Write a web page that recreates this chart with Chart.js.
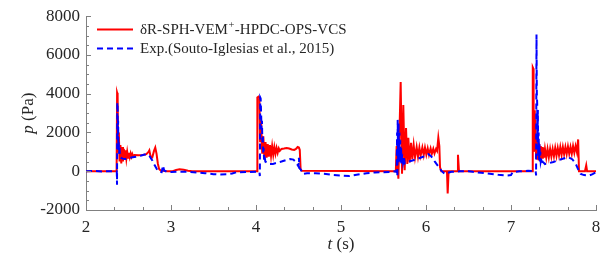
<!DOCTYPE html>
<html><head><meta charset="utf-8">
<script src="https://cdn.jsdelivr.net/npm/chart.js@4/dist/chart.umd.min.js"></script>
<style>html,body{margin:0;padding:0;background:#fff;}canvas{display:block;}</style>
</head><body>
<canvas id="c" width="611" height="262"></canvas>
<script>
// ---- data ----
const seriesNames = ['δR-SPH-VEM+-HPDC-OPS-VCS', 'Exp.(Souto-Iglesias et al., 2015)'];
const xTicks = [2, 3, 4, 5, 6, 7, 8];
const yTicks = [-2000, 0, 2000, 4000, 6000, 8000];
const xLabel = ['t', ' (s)'];
const yLabel = ['p', ' (Pa)'];

const simT = [
2.00, 2.36, 2.362,
2.366, 2.372, 2.378, 2.386, 2.395, 2.405, 2.415, 2.425, 2.435, 2.445,
2.455, 2.465, 2.475, 2.485, 2.495, 2.505, 2.515, 2.525, 2.535, 2.545,
2.555, 2.57, 2.62, 2.67, 2.71, 2.735, 2.745, 2.76, 2.78, 2.80,
2.815, 2.83, 2.845, 2.86, 2.88, 2.95, 3.02, 3.06, 3.10, 3.15,
3.20, 3.25, 4.012,
4.016, 4.03, 4.04, 4.048, 4.06, 4.073, 4.086, 4.099, 4.112, 4.125,
4.138, 4.151, 4.164, 4.177, 4.19, 4.203, 4.216, 4.229, 4.242, 4.255,
4.268, 4.28, 4.30, 4.33, 4.36, 4.39, 4.42, 4.45, 4.47, 4.49,
4.505, 4.515, 4.525, 4.54, 5.645,
5.647, 5.655, 5.675, 5.702, 5.718, 5.733, 5.749, 5.765, 5.780, 5.792,
5.808, 5.824, 5.839, 5.855, 5.871, 5.890, 5.906, 5.922, 5.937, 5.957,
5.973, 5.988, 6.004, 6.020, 6.035, 6.054, 6.069, 6.086, 6.10, 6.118,
6.13, 6.145, 6.157, 6.165, 6.18, 6.247, 6.255, 6.266, 6.365, 6.376,
6.388, 7.25,
7.255, 7.257, 7.262, 7.266, 7.272, 7.28, 7.287, 7.295, 7.303, 7.31,
7.318, 7.326, 7.334, 7.342, 7.35, 7.358, 7.366, 7.374, 7.382, 7.39,
7.40, 7.415, 7.43, 7.445, 7.46, 7.475, 7.49, 7.505, 7.52, 7.535,
7.55, 7.565, 7.58, 7.595, 7.61, 7.625, 7.64, 7.655, 7.67, 7.685,
7.70, 7.715, 7.73, 7.745, 7.76, 7.775, 7.79, 7.80, 7.87, 7.885,
7.895, 8.00
];
const simP = [
0, 0, 0,
4050, 3950, 1000, 2000, 500, 1350, 400, 1250, 500, 1150,
600, 1080, 650, 1000, 700, 960, 730, 920, 750, 890,
770, 840, 820, 840, 880, 1000, 1080, 760, 720, 1050,
1220, 900, 400, 120, 30, 0, 0, 60, 100, 80,
30, 0, 0,
3800, 3850, 3800, 1500, 2600, 900, 1800, 700, 1500, 700,
1400, 750, 1350, 800, 1300, 850, 1250, 900, 1200, 950,
1180, 1050, 1150, 1170, 1200, 1170, 1120, 1100, 1150, 1250,
1220, 1100, 100, 20, 0,
0, 1300, -390, 4600, -130, 3420, 50, 2230, 370, 1730,
460, 1470, 620, 1350, 710, 1250, 750, 1220, 800, 1220,
830, 1220, 850, 1180, 850, 1180, 900, 1160, 920, 1150,
1050, 1730, 1300, 200, 0, 0, -1150, 0, 0, 850,
0, 0,
0, 5360, 5300, 1500, 3150, 1000, 2650, 700, 1800, 600,
1470, 560, 1400, 600, 1300, 650, 1250, 650, 1200, 700,
1150, 700, 1150, 720, 1150, 750, 1150, 770, 1200, 800,
1200, 820, 1250, 850, 1250, 870, 1250, 880, 1280, 900,
1250, 900, 1300, 950, 1300, 1000, 1640, 0, 0, 300,
0, 0
];

const expT = [
2.00, 2.10, 2.20, 2.30, 2.362, 2.365, 2.368, 2.372, 2.375, 2.378,
2.381, 2.385, 2.39, 2.395, 2.40, 2.41, 2.43, 2.46, 2.50, 2.55,
2.60, 2.65, 2.69, 2.72, 2.75, 2.78, 2.81, 2.84, 2.87, 2.89,
2.905, 2.92, 2.95, 3.00, 3.10, 3.20, 3.30, 3.40, 3.50, 3.58,
3.66, 3.72, 3.77, 3.90, 4.00, 4.04,
4.045, 4.05, 4.055, 4.06, 4.065, 4.07, 4.075, 4.08, 4.085, 4.09,
4.095, 4.10, 4.11, 4.125, 4.15, 4.20, 4.25, 4.30, 4.35, 4.40,
4.44, 4.47, 4.50, 4.505, 4.51, 4.525, 4.55, 4.60, 4.70, 4.80,
4.90, 5.00, 5.10, 5.20, 5.30, 5.40, 5.50, 5.60, 5.64,
5.655, 5.66, 5.663, 5.667, 5.672, 5.677, 5.682, 5.687, 5.692, 5.697,
5.702, 5.707, 5.712, 5.72, 5.73, 5.74, 5.75, 5.77, 5.80, 5.85,
5.90, 5.95, 6.00, 6.03, 6.06, 6.10, 6.15, 6.18, 6.22, 6.26,
6.30, 6.40, 6.50, 6.55, 6.65, 6.75, 6.85, 6.95, 7.00, 7.02,
7.10, 7.20, 7.29,
7.295, 7.30, 7.304, 7.308, 7.312, 7.316, 7.32, 7.325, 7.33, 7.335,
7.34, 7.345, 7.35, 7.36, 7.37, 7.38, 7.40, 7.45, 7.50, 7.55,
7.60, 7.65, 7.68, 7.72, 7.76, 7.79, 7.82, 7.86, 7.92, 7.96,
8.00
];
const expP = [
0, 10, -10, 0, 0, -700, 3550, 3400, 1600, 2600,
1100, 1500, 900, 1250, 750, 700, 650, 630, 680, 720,
760, 810, 860, 880, 760, 560, 290, 60, -40, -50,
300, 40, -30, -40, -20, -30, -60, -100, -150, -170,
-160, -120, -50, -40, -30, -40,
-250, 3800, 3750, 3000, 2150, 2600, 1500, 1800, 900, 1200,
600, 800, 500, 460, 380, 380, 440, 500, 570, 630,
600, 470, 250, 700, 150, 100, -140, -100, -100, -130,
-190, -220, -250, -170, -100, -60, -50, -30, 0,
-50, 2000, -300, 2650, 400, 2500, 600, 2000, 500, 1600,
450, 1200, 400, 900, 450, 700, 400, 450, 500, 570,
640, 720, 800, 880, 780, 520, 220, 30, -130, -80,
-30, 0, 0, -30, -80, -130, -180, -220, -200, -50,
0, 20, 0,
-220, 7050, 4000, 3500, 1500, 3160, 800, 2000, 600, 1400,
500, 1000, 500, 700, 480, 460, 370, 420, 480, 560,
630, 700, 710, 620, 400, 100, -140, -200, -220, -150,
-50
];

// ---- styling ----
const FONT = '"Liberation Serif", "Times New Roman", serif';
const AXIS_COLOR = '#808080';
const TEXT_COLOR = '#262626';
const RED = '#ff0000';
const BLUE = '#0000ff';
const BLUE_DASH = [6, 4];

const toXY = (ts, ps) => ts.map((t, i) => ({ x: t, y: ps[i] }));

const inwardTicks = {
  id: 'inwardTicks',
  afterDraw(chart) {
    const { ctx, chartArea: a, scales: { x, y } } = chart;
    ctx.save();
    ctx.strokeStyle = AXIS_COLOR;
    ctx.lineWidth = 1;
    ctx.beginPath();
    const xs = x.min, xe = x.max;
    for (let k = 0; k <= (xe - xs) * 3 + 1e-6; k++) {
      const v = xs + k / 3;
      const major = k % 3 === 0;
      const px = Math.round(x.getPixelForValue(v)) + 0.5;
      ctx.moveTo(px, a.bottom);
      ctx.lineTo(px, a.bottom - (major ? 5 : 3));
    }
    for (let v = y.min; v <= y.max + 1e-6; v += 500) {
      const major = (v % 2000) === 0;
      const py = Math.round(y.getPixelForValue(v)) + 0.5;
      ctx.moveTo(a.left, py);
      ctx.lineTo(a.left + (major ? 5 : 3), py);
    }
    ctx.stroke();
    ctx.restore();
  }
};

const titlesAndLegend = {
  id: 'titlesAndLegend',
  afterDraw(chart) {
    const { ctx, chartArea: a } = chart;
    ctx.save();
    ctx.fillStyle = TEXT_COLOR;
    ctx.textBaseline = 'alphabetic';
    // x title
    ctx.font = 'italic 17px ' + FONT;
    const w1 = ctx.measureText(xLabel[0]).width;
    ctx.font = '17px ' + FONT;
    const w2 = ctx.measureText(xLabel[1]).width;
    let cx = (a.left + a.right) / 2 - (w1 + w2) / 2;
    ctx.font = 'italic 17px ' + FONT;
    ctx.fillText(xLabel[0], cx, 249);
    ctx.font = '17px ' + FONT;
    ctx.fillText(xLabel[1], cx + w1, 249);
    // y title
    ctx.save();
    ctx.translate(33, (a.top + a.bottom) / 2);
    ctx.rotate(-Math.PI / 2);
    ctx.font = 'italic 17px ' + FONT;
    const v1 = ctx.measureText(yLabel[0]).width;
    ctx.font = '17px ' + FONT;
    const v2 = ctx.measureText(yLabel[1]).width;
    const sx = -(v1 + v2) / 2;
    ctx.font = 'italic 17px ' + FONT;
    ctx.fillText(yLabel[0], sx, 0);
    ctx.font = '17px ' + FONT;
    ctx.fillText(yLabel[1], sx + v1, 0);
    ctx.restore();
    // legend
    const ds = chart.data.datasets;
    const rows = [29, 48];
    ds.forEach((d, i) => {
      const ly = rows[i];
      ctx.save();
      ctx.strokeStyle = d.borderColor;
      ctx.lineWidth = 2;
      ctx.setLineDash(d.borderDash || []);
      ctx.beginPath();
      ctx.moveTo(97, ly + 0.5);
      ctx.lineTo(133, ly + 0.5);
      ctx.stroke();
      ctx.restore();
      ctx.fillStyle = TEXT_COLOR;
      const parts = d.label.split('+');
      let tx = 140;
      const base = ly + 5;
      parts.forEach((p, j) => {
        ctx.font = '15px ' + FONT;
        ctx.fillText(p, tx, base);
        tx += ctx.measureText(p).width;
        if (j < parts.length - 1) {
          ctx.font = '10.5px ' + FONT;
          ctx.fillText('+', tx + 0.5, base - 6);
          tx += ctx.measureText('+').width + 1;
        }
      });
    });
    ctx.restore();
  }
};

new Chart(document.getElementById('c'), {
  type: 'line',
  data: {
    datasets: [
      { label: seriesNames[0], data: toXY(simT, simP), borderColor: RED, borderWidth: 2,
        pointRadius: 0, fill: false, tension: 0, order: 1 },
      { label: seriesNames[1], data: toXY(expT, expP), borderColor: BLUE, borderWidth: 2,
        borderDash: BLUE_DASH, pointRadius: 0, fill: false, tension: 0, order: 0 }
    ]
  },
  options: {
    responsive: false,
    animation: false,
    devicePixelRatio: 1,
    layout: { padding: { top: 10, right: 15, left: 0, bottom: 0 } },
    plugins: { legend: { display: false }, tooltip: { enabled: false } },
    scales: {
      x: {
        type: 'linear', min: 2, max: 8,
        afterBuildTicks: s => { s.ticks = xTicks.map(v => ({ value: v })); },
        afterFit: s => { s.height = 52; },
        ticks: { font: { family: FONT, size: 17 }, color: TEXT_COLOR, padding: 7, maxRotation: 0, autoSkip: false,
                 callback: v => String(v) },
        grid: { display: false, drawTicks: false },
        border: { display: true, color: AXIS_COLOR, width: 1 }
      },
      y: {
        type: 'linear', min: -2000, max: 8000,
        afterBuildTicks: s => { s.ticks = yTicks.map(v => ({ value: v })); },
        afterFit: s => { s.width = 86; },
        ticks: { font: { family: FONT, size: 17 }, color: TEXT_COLOR, padding: 6, autoSkip: false,
                 callback: v => String(v) },
        grid: { display: false, drawTicks: false },
        border: { display: true, color: AXIS_COLOR, width: 1 }
      }
    }
  },
  plugins: [inwardTicks, titlesAndLegend]
});
</script>
</body></html>
